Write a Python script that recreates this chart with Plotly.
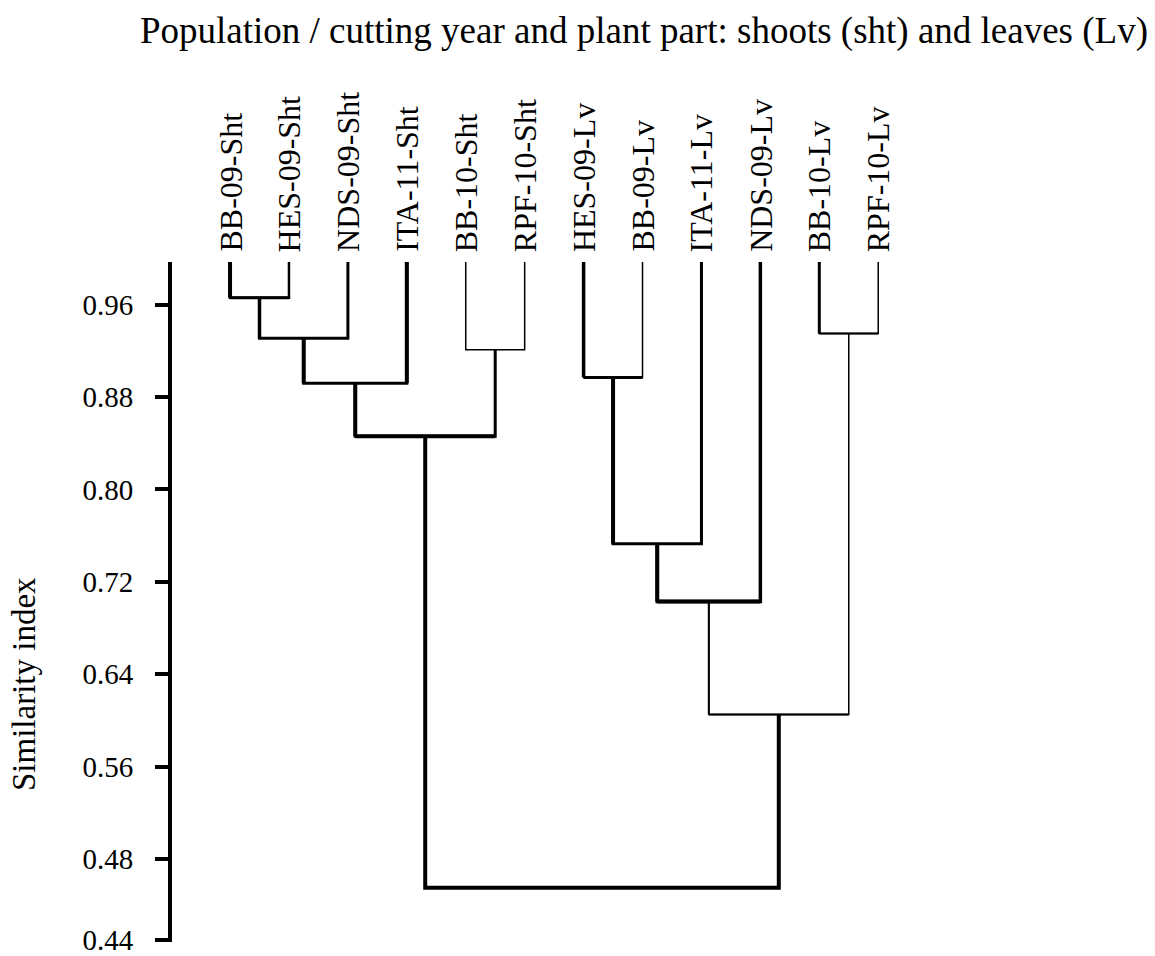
import plotly.graph_objects as go

# ---------------- data ----------------
leaf_labels = ["BB-09-Sht", "HES-09-Sht", "NDS-09-Sht", "ITA-11-Sht", "BB-10-Sht", "RPF-10-Sht",
               "HES-09-Lv", "BB-09-Lv", "ITA-11-Lv", "NDS-09-Lv", "BB-10-Lv", "RPF-10-Lv"]
leaf_similarity = 0.997
# merges: (node a, node b, similarity); new nodes numbered from 12 upward
merge_left = [0, 12, 13, 4, 14, 6, 17, 18, 10, 19, 16]
merge_right = [1, 2, 3, 5, 15, 7, 8, 9, 11, 20, 21]
merge_similarity = [0.966, 0.931, 0.892, 0.921, 0.846, 0.897, 0.753, 0.703, 0.935, 0.605, 0.455]
tick_labels = ["0.96", "0.88", "0.80", "0.72", "0.64", "0.56", "0.48", "0.44"]

# ---------------- styles ----------------
# (left vertical, horizontal, right vertical) line widths per merge
merge_widths = [(4, 3, 2.5), (3.5, 3, 3), (4, 3, 4), (1.5, 1.5, 1.5), (4, 4, 3),
                (3.5, 3, 1.5), (4, 3, 3), (4, 4, 3.5), (3, 2, 1.5), (2, 2, 1.5), (4, 4, 4)]
FONT = "Liberation Serif, Times New Roman, serif"
y_min, y_max = 0.41, leaf_similarity
PX_PER_UNIT = 1154
range_lo = y_min - 0.002
plot_h = round((y_max - range_lo) * PX_PER_UNIT)

# ---------------- build dendrogram ----------------
n = len(leaf_labels)
pos = {i: float(i) for i in range(n)}
hgt = {i: leaf_similarity for i in range(n)}

fig = go.Figure()

def seg(xs, ys, w):
    fig.add_trace(go.Scatter(x=xs, y=ys, mode="lines",
                             line=dict(color="black", width=w),
                             hoverinfo="skip", showlegend=False))

for k, (a, b, s) in enumerate(zip(merge_left, merge_right, merge_similarity)):
    node = n + k
    xa, xb = pos[a], pos[b]
    ha, hb = hgt[a], hgt[b]
    wl, wh, wr = merge_widths[k]
    wmin = min(wl, wh, wr)
    seg([xa, xa, xb, xb], [ha, s, s, hb], wmin)
    if wl > wmin:
        seg([xa, xa], [ha, s], wl)
    if wh > wmin:
        seg([xa, xb], [s, s], wh)
    if wr > wmin:
        seg([xb, xb], [hb, s], wr)
    pos[node] = (xa + xb) / 2
    hgt[node] = s

# leaf labels
for i, lab in enumerate(leaf_labels):
    fig.add_annotation(x=i, y=leaf_similarity, xref="x", yref="y", text=lab,
                       textangle=-90, showarrow=False, xanchor="center", yanchor="bottom",
                       yshift=8, font=dict(family=FONT, size=32, color="black"))

tick_vals = [float(t) for t in tick_labels[:-1]] + [y_min]

fig.update_layout(
    width=1155, height=956,
    margin=dict(l=172, r=100, t=262, b=956 - 262 - plot_h),
    paper_bgcolor="white", plot_bgcolor="white",
    showlegend=False,
    title=dict(text="Population / cutting year and plant part: shoots (sht) and leaves (Lv)",
               x=644 / 1155, xanchor="center", xref="container",
               y=1 - 30 / 956, yanchor="middle", yref="container",
               font=dict(family=FONT, size=37, color="black")),
    xaxis=dict(range=[-0.985, 14.0], visible=False, fixedrange=True, automargin=False),
    yaxis=dict(range=[range_lo, y_max], tickvals=tick_vals, ticktext=tick_labels,
               showgrid=False, zeroline=False, showline=True, linecolor="black", linewidth=4,
               ticks="outside", ticklen=13, tickwidth=4, tickcolor="black",
               ticklabelstandoff=16, ticklabeloverflow="allow", automargin=False,
               tickfont=dict(family=FONT, size=29, color="black"), fixedrange=True),
)

fig.add_annotation(text="Similarity index", xref="paper", yref="paper", x=0, y=0.5,
                   xanchor="center", yanchor="middle", xshift=-148, yshift=-82,
                   textangle=-90, showarrow=False,
                   font=dict(family=FONT, size=33, color="black"))

fig.write_html("out.html")
